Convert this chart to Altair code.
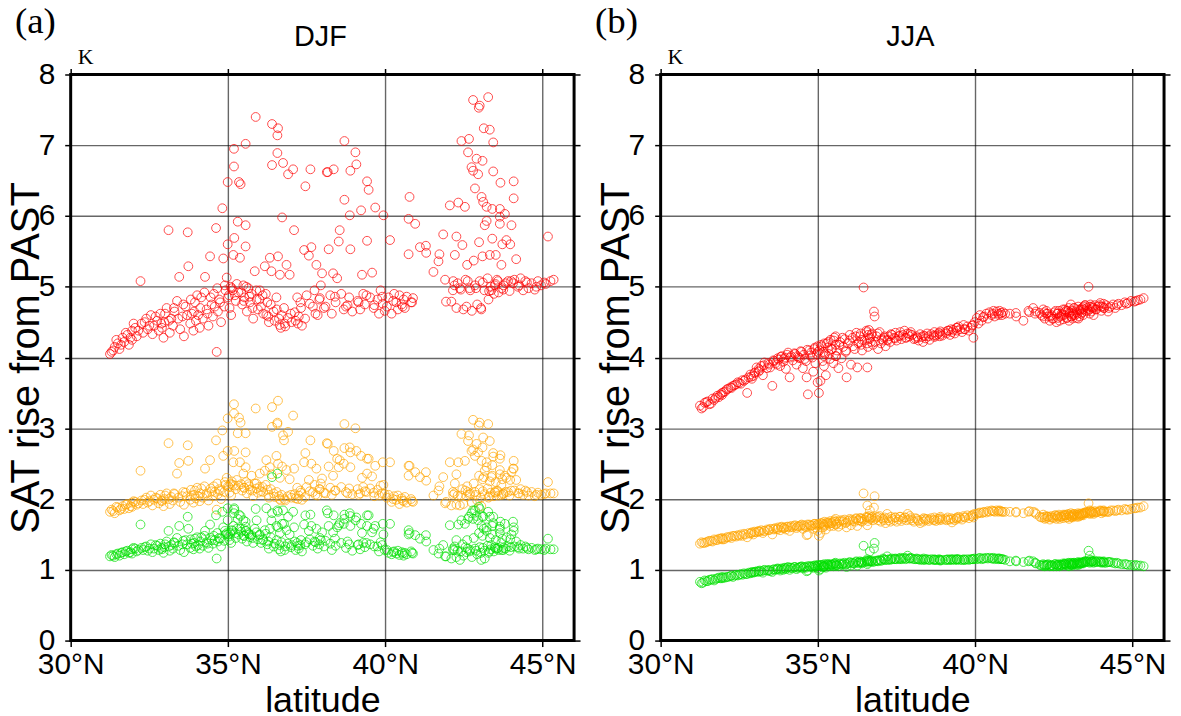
import altair as alt
import pandas as pd

# station latitudes (shared by all series)
lat = [
31.25, 31.30, 31.40, 31.50, 31.55, 31.65, 31.70, 31.80, 31.85, 31.95,
31.95, 32.05, 32.10, 32.22, 32.25, 32.30, 32.40, 32.45, 32.55, 32.60,
32.65, 32.75, 32.80, 32.85, 32.90, 32.95, 32.98, 33.05, 33.11, 33.15,
33.20, 33.25, 33.30, 33.38, 33.45, 33.48, 33.55, 33.60, 33.65, 33.72,
33.74, 33.80, 33.85, 33.90, 33.95, 33.98, 34.05, 34.10, 34.15, 34.20,
34.27, 34.32, 34.38, 34.43, 34.48, 34.52, 34.55, 34.62, 34.64, 34.68,
34.72, 34.78, 34.82, 34.85, 34.88, 34.92, 34.96, 34.99, 34.99, 35.03,
35.05, 35.08, 35.10, 35.15, 35.17, 35.19, 35.19, 35.20, 35.25, 35.31,
35.33, 35.35, 35.38, 35.40, 35.45, 35.49, 35.52, 35.56, 35.56, 35.56,
35.60, 35.65, 35.70, 35.75, 35.80, 35.85, 35.88, 35.91, 35.95, 36.01,
36.05, 36.10, 36.17, 36.22, 36.25, 36.30, 36.33, 36.38, 36.40, 36.40,
36.45, 36.54, 36.57, 36.57, 36.59, 36.59, 36.62, 36.65, 36.68, 36.72,
36.75, 36.78, 36.80, 36.86, 36.91, 36.96, 37.00, 37.07, 37.10, 37.15,
37.20, 37.25, 37.30, 37.35, 37.42, 37.46, 37.50, 37.57, 37.62, 37.65,
37.70, 37.75, 37.81, 37.85, 37.90, 37.95, 37.99, 38.05, 38.14, 38.17,
38.20, 38.25, 38.30, 38.34, 38.36, 38.42, 38.47, 38.52, 38.55, 38.60,
38.68, 38.70, 38.70, 38.75, 38.85, 38.87, 38.89, 38.89, 38.95, 39.05,
39.08, 39.12, 39.20, 39.23, 39.26, 39.30, 39.35, 39.42, 39.42, 39.47,
39.52, 39.58, 39.63, 39.68, 39.75, 39.80, 39.85, 39.92, 39.94, 39.98,
40.05, 40.10, 40.15, 40.20, 40.28, 40.35, 40.40, 40.45, 40.52, 40.58,
40.62, 40.68, 40.74, 40.74, 40.77, 40.82, 40.88, 40.95, 41.10, 41.29,
41.30, 41.53, 41.69, 41.72, 41.84, 41.90, 41.93, 42.05, 42.10, 42.16,
42.21, 42.26, 42.26, 42.32, 42.37, 42.42, 42.45, 42.53, 42.58, 42.60,
42.63, 42.66, 42.70, 42.74, 42.79, 42.79, 42.81, 42.85, 42.90, 42.95,
42.97, 42.98, 43.00, 43.04, 43.06, 43.09, 43.09, 43.11, 43.13, 43.16,
43.22, 43.22, 43.27, 43.32, 43.32, 43.37, 43.40, 43.40, 43.43, 43.43,
43.48, 43.51, 43.55, 43.60, 43.64, 43.64, 43.64, 43.66, 43.69, 43.72,
43.76, 43.80, 43.85, 43.90, 43.97, 44.01, 44.06, 44.08, 44.08, 44.16,
44.22, 44.30, 44.38, 44.45, 44.55, 44.65, 44.75, 44.85, 44.95, 45.05,
45.17, 45.25, 45.35, 42.15, 42.30, 42.48, 42.55, 42.68, 42.75, 42.85,
42.92, 43.00, 43.05, 43.15, 43.25, 43.28, 43.35, 43.45, 43.58, 43.70,
43.82, 43.95, 44.10,
31.35, 31.45, 31.60, 31.75, 31.90, 32.00, 32.15, 32.35, 32.50, 32.70,
32.88, 33.00, 33.12, 33.28, 33.42, 33.58, 33.70, 33.82, 33.92, 34.02,
34.12, 34.25, 34.35, 34.45, 34.58, 34.66, 34.75, 34.90, 35.00, 35.12,
35.22, 35.28, 35.42, 35.50, 35.58, 35.68, 35.78, 35.90, 36.00, 36.12,
36.20, 36.28, 36.36, 36.48, 36.55, 36.64, 36.70, 36.82, 36.90, 37.02,
37.12, 37.22, 37.32, 37.45, 37.60, 37.78, 37.92, 38.10, 38.40, 38.80,
39.15, 39.40, 39.65, 39.90, 40.25, 40.55, 40.85, 42.20, 42.40, 42.62,
42.88, 43.10, 43.30, 43.50, 43.75, 44.00, 44.25, 44.50, 44.80, 45.10,
]

djf_red = [
4.05, 4.08, 4.15, 4.20, 4.12, 4.28, 4.22, 4.32, 4.18, 4.38,
4.25, 4.42, 4.30, 5.08, 4.48, 4.35, 4.55, 4.40, 4.60, 4.33,
4.45, 4.52, 4.38, 4.62, 4.42, 4.28, 4.50, 4.70, 5.80, 4.35,
4.55, 4.45, 4.65, 4.80, 5.14, 4.40, 4.58, 4.30, 4.72, 5.77,
5.29, 4.48, 4.62, 4.38, 4.78, 4.52, 4.60, 4.42, 4.85, 4.55,
5.14, 4.68, 4.45, 5.43, 4.75, 4.58, 4.90, 5.83, 4.08, 4.65,
4.82, 4.50, 6.11, 5.40, 4.72, 4.95, 5.13, 5.60, 6.48, 4.88,
4.70, 5.00, 4.60, 4.95, 5.45, 6.95, 6.70, 5.69, 4.80, 5.92,
4.92, 6.48, 5.41, 6.45, 4.75, 5.02, 4.85, 7.02, 5.87, 5.57,
4.65, 4.98, 4.78, 4.90, 4.55, 5.22, 7.40, 4.82, 4.68, 4.95,
4.72, 4.88, 5.29, 4.60, 4.78, 4.50, 5.41, 5.22, 7.30, 6.72,
4.65, 4.85, 7.14, 6.89, 7.24, 5.43, 4.55, 5.17, 4.42, 5.98,
6.75, 4.70, 4.48, 5.31, 6.59, 5.17, 4.62, 6.66, 5.80, 4.52,
4.85, 4.58, 4.78, 4.45, 5.52, 6.42, 4.88, 5.44, 6.66, 5.56,
4.72, 4.95, 5.31, 4.60, 4.82, 5.02, 5.19, 4.70, 6.62, 6.62,
5.53, 4.88, 4.62, 5.19, 6.66, 4.78, 5.12, 5.64, 5.80, 4.90,
4.68, 7.06, 6.23, 4.72, 4.85, 6.01, 6.64, 5.53, 4.65, 6.90,
6.73, 4.80, 4.68, 6.08, 5.17, 4.90, 4.75, 6.49, 5.65, 6.37,
4.85, 5.20, 4.70, 6.12, 4.82, 4.62, 4.95, 4.76, 6.01, 4.66,
4.72, 4.85, 5.66, 4.62, 4.90, 4.78, 4.68, 4.88, 4.75, 4.82,
4.70, 4.86, 5.96, 5.46, 6.27, 4.78, 4.84, 5.89, 5.56, 5.58,
5.48, 5.21, 5.36, 5.46, 5.74, 5.10, 4.79, 6.15, 4.79, 5.08,
5.45, 5.71, 4.70, 6.19, 4.98, 7.06, 5.59, 6.13, 4.72, 5.31,
6.90, 7.09, 4.95, 6.69, 7.64, 6.64, 5.37, 6.39, 6.81, 6.59,
7.53, 5.63, 7.56, 4.70, 6.27, 6.78, 5.43, 6.20, 7.24, 5.87,
6.13, 5.93, 7.68, 7.22, 5.45, 4.95, 6.10, 5.68, 7.04, 6.63,
5.02, 5.45, 5.10, 4.92, 6.10, 5.99, 5.89, 6.47, 5.31, 5.60,
5.02, 6.03, 5.66, 5.08, 5.60, 5.87, 5.05, 6.49, 6.25, 5.39,
5.00, 5.12, 4.95, 5.08, 4.98, 5.05, 4.96, 5.08, 5.02, 5.06,
5.71, 5.08, 5.10, 4.95, 5.05, 4.68, 5.10, 4.98, 4.66, 5.02,
4.75, 5.08, 4.68, 4.95, 5.12, 4.82, 5.00, 4.90, 5.08, 4.98,
5.05, 4.94, 5.10,
4.10, 4.25, 4.18, 4.35, 4.28, 4.48, 4.38, 4.50, 4.45, 4.58,
4.48, 4.62, 4.52, 4.70, 4.55, 4.75, 4.60, 4.82, 4.65, 4.88,
4.70, 4.92, 4.62, 4.85, 4.72, 4.98, 4.78, 5.02, 4.85, 4.98,
4.88, 5.04, 4.92, 4.80, 5.00, 4.86, 4.70, 4.95, 4.82, 4.62,
4.90, 4.58, 4.75, 4.52, 4.68, 4.46, 4.60, 4.44, 4.56, 4.50,
4.64, 4.48, 4.70, 4.55, 4.76, 4.62, 4.84, 4.72, 4.86, 4.74,
4.78, 4.88, 4.74, 4.86, 4.80, 4.72, 4.78, 5.02, 4.96, 5.08,
4.98, 5.06, 4.94, 5.04, 4.96, 5.08, 5.02, 5.06, 5.00, 5.04,
]

djf_orange = [
1.82, 1.85, 1.80, 1.88, 1.84, 1.90, 1.86, 1.93, 1.87, 1.95,
1.89, 1.96, 1.92, 2.40, 1.98, 1.93, 2.02, 1.95, 2.05, 1.91,
1.99, 2.01, 1.94, 2.06, 1.97, 1.90, 2.00, 2.08, 2.79, 1.93,
2.03, 1.98, 2.07, 2.36, 2.51, 1.96, 2.04, 1.92, 2.09, 2.76,
2.54, 1.99, 2.05, 1.95, 2.12, 2.01, 2.04, 1.97, 2.15, 2.02,
2.43, 2.08, 1.98, 2.55, 2.11, 2.04, 2.18, 2.83, 1.85, 2.07,
2.14, 2.00, 2.97, 2.61, 2.10, 2.20, 2.30, 3.14, 2.68, 2.17,
2.09, 2.22, 2.05, 2.20, 2.52, 3.34, 3.21, 2.68, 2.14, 2.93,
2.19, 3.15, 2.52, 3.08, 2.12, 2.36, 2.16, 2.93, 2.66, 2.45,
2.08, 2.21, 2.13, 2.33, 2.04, 2.22, 3.28, 2.15, 2.09, 2.36,
2.11, 2.17, 2.40, 2.55, 2.13, 2.02, 2.45, 2.35, 3.30, 3.02,
2.08, 2.61, 3.08, 3.06, 3.39, 2.50, 2.04, 2.30, 1.98, 2.46,
2.90, 2.83, 2.00, 2.41, 2.95, 2.28, 2.06, 3.18, 2.43, 2.01,
2.16, 2.05, 2.12, 1.99, 2.52, 2.65, 2.17, 2.27, 2.83, 2.50,
2.10, 2.20, 2.43, 2.05, 2.14, 2.22, 2.29, 2.09, 2.79, 2.78,
2.46, 2.16, 2.06, 2.33, 2.68, 2.12, 2.57, 2.45, 2.55, 2.17,
2.50, 3.06, 2.72, 2.10, 2.15, 2.73, 2.66, 2.45, 2.07, 3.00,
2.68, 2.14, 2.08, 2.61, 2.30, 2.17, 2.11, 2.36, 2.57, 2.57,
2.15, 2.32, 2.09, 2.47, 2.13, 2.05, 2.19, 2.52, 2.20, 2.07,
2.02, 2.06, 2.52, 1.96, 2.04, 1.99, 2.05, 1.93, 2.01, 1.97,
2.03, 1.95, 2.33, 2.47, 2.47, 2.00, 1.96, 2.38, 2.31, 2.38,
2.26, 2.05, 2.12, 2.18, 2.31, 1.94, 1.96, 2.52, 1.91, 2.06,
2.22, 2.35, 1.92, 2.52, 1.91, 2.92, 2.14, 2.54, 2.04, 2.18,
2.82, 2.90, 2.08, 2.68, 3.12, 2.70, 2.22, 2.61, 2.78, 2.66,
3.04, 2.33, 3.08, 2.02, 2.54, 2.73, 2.28, 2.87, 2.31, 2.40,
2.52, 2.45, 3.06, 2.82, 2.25, 2.31, 2.48, 2.33, 2.65, 2.60,
2.10, 2.24, 2.12, 2.05, 2.57, 2.41, 2.35, 2.62, 2.20, 2.28,
2.08, 2.33, 2.30, 2.10, 2.27, 2.38, 2.43, 2.54, 2.43, 2.27,
2.08, 2.14, 2.06, 2.12, 2.05, 2.10, 2.04, 2.09, 2.06, 2.07,
2.24, 2.08, 2.08, 2.10, 2.05, 1.93, 2.12, 2.06, 1.95, 2.10,
1.98, 2.14, 1.90, 2.07, 2.15, 2.02, 2.09, 2.04, 2.11, 2.06,
2.10, 2.05, 2.12,
1.83, 1.89, 1.86, 1.92, 1.90, 1.97, 1.94, 1.99, 1.97, 2.02,
1.98, 2.05, 2.00, 2.08, 2.02, 2.10, 2.04, 2.13, 2.06, 2.16,
2.08, 2.18, 2.05, 2.15, 2.10, 2.22, 2.12, 2.24, 2.18, 2.25,
2.19, 2.27, 2.21, 2.16, 2.24, 2.18, 2.12, 2.22, 2.17, 2.10,
2.20, 2.06, 2.14, 2.03, 2.10, 2.00, 2.06, 1.98, 2.04, 2.02,
2.07, 2.00, 2.09, 2.03, 2.11, 2.06, 2.14, 2.08, 2.12, 2.08,
2.06, 2.10, 2.04, 2.08, 2.00, 1.98, 1.97, 2.08, 2.05, 2.10,
2.06, 2.11, 2.04, 2.09, 2.07, 2.12, 2.08, 2.10, 2.06, 2.08,
]

djf_green = [
1.19, 1.21, 1.18, 1.23, 1.20, 1.25, 1.22, 1.27, 1.24, 1.29,
1.23, 1.30, 1.26, 1.64, 1.31, 1.28, 1.33, 1.27, 1.36, 1.25,
1.30, 1.34, 1.28, 1.37, 1.29, 1.24, 1.32, 1.40, 1.55, 1.27,
1.35, 1.30, 1.38, 1.45, 1.62, 1.28, 1.36, 1.25, 1.42, 1.75,
1.58, 1.31, 1.37, 1.29, 1.44, 1.33, 1.35, 1.30, 1.46, 1.34,
1.55, 1.39, 1.31, 1.64, 1.42, 1.37, 1.48, 1.77, 1.16, 1.40,
1.45, 1.33, 1.82, 1.60, 1.41, 1.50, 1.52, 1.70, 1.87, 1.47,
1.42, 1.52, 1.38, 1.55, 1.62, 1.85, 1.80, 1.87, 1.45, 1.72,
1.50, 1.78, 1.58, 1.76, 1.44, 1.70, 1.48, 1.61, 1.68, 1.55,
1.40, 1.52, 1.46, 1.49, 1.38, 1.58, 1.86, 1.70, 1.43, 1.50,
1.38, 1.42, 1.56, 1.87, 1.36, 1.30, 1.58, 1.70, 2.31, 1.80,
1.33, 1.62, 1.84, 2.36, 1.82, 1.60, 1.29, 1.52, 1.26, 1.65,
1.84, 1.65, 1.28, 1.56, 1.75, 1.50, 1.32, 1.82, 1.60, 1.28,
1.38, 1.30, 1.35, 1.26, 1.64, 1.77, 1.39, 1.55, 1.78, 1.62,
1.34, 1.40, 1.58, 1.30, 1.36, 1.42, 1.53, 1.33, 1.84, 1.80,
1.62, 1.37, 1.28, 1.53, 1.77, 1.34, 1.60, 1.63, 1.66, 1.38,
1.65, 1.78, 1.72, 1.31, 1.36, 1.80, 1.76, 1.62, 1.27, 1.70,
1.74, 1.35, 1.29, 1.65, 1.52, 1.38, 1.32, 1.77, 1.62, 1.77,
1.36, 1.53, 1.58, 1.62, 1.33, 1.26, 1.39, 1.65, 1.50, 1.28,
1.28, 1.24, 1.65, 1.22, 1.26, 1.23, 1.27, 1.21, 1.25, 1.20,
1.24, 1.22, 1.56, 1.50, 1.52, 1.26, 1.23, 1.49, 1.44, 1.49,
1.40, 1.28, 1.23, 1.30, 1.35, 1.19, 1.19, 1.63, 1.16, 1.28,
1.33, 1.42, 1.18, 1.64, 1.14, 1.70, 1.36, 1.65, 1.25, 1.42,
1.72, 1.75, 1.28, 1.80, 1.84, 1.72, 1.45, 1.84, 1.76, 1.70,
1.89, 1.52, 1.86, 1.24, 1.62, 1.76, 1.48, 1.75, 1.58, 1.16,
1.60, 1.55, 1.82, 1.75, 1.45, 1.35, 1.62, 1.50, 1.75, 1.66,
1.32, 1.42, 1.30, 1.28, 1.61, 1.58, 1.52, 1.68, 1.38, 1.44,
1.31, 1.65, 1.46, 1.33, 1.43, 1.50, 1.68, 1.60, 1.55, 1.40,
1.32, 1.35, 1.30, 1.33, 1.29, 1.31, 1.28, 1.30, 1.29, 1.28,
1.44, 1.29, 1.29, 1.30, 1.27, 1.20, 1.32, 1.26, 1.18, 1.30,
1.22, 1.32, 1.14, 1.27, 1.34, 1.24, 1.29, 1.26, 1.31, 1.28,
1.30, 1.27, 1.33,
1.20, 1.22, 1.24, 1.26, 1.25, 1.31, 1.28, 1.32, 1.30, 1.35,
1.31, 1.36, 1.33, 1.39, 1.34, 1.41, 1.36, 1.43, 1.38, 1.46,
1.40, 1.48, 1.37, 1.45, 1.42, 1.52, 1.44, 1.55, 1.50, 1.56,
1.52, 1.58, 1.54, 1.48, 1.55, 1.50, 1.45, 1.53, 1.49, 1.43,
1.51, 1.40, 1.46, 1.37, 1.42, 1.35, 1.39, 1.33, 1.37, 1.35,
1.40, 1.34, 1.42, 1.36, 1.43, 1.39, 1.45, 1.41, 1.44, 1.40,
1.36, 1.38, 1.33, 1.35, 1.25, 1.23, 1.24, 1.28, 1.26, 1.30,
1.27, 1.31, 1.26, 1.30, 1.28, 1.32, 1.30, 1.31, 1.29, 1.30,
]

jja_red = [
3.32, 3.28, 3.36, 3.38, 3.34, 3.42, 3.40, 3.46, 3.44, 3.50,
3.47, 3.52, 3.55, 3.58, 3.57, 3.60, 3.62, 3.65, 3.63, 3.68,
3.67, 3.50, 3.72, 3.76, 3.70, 3.74, 3.78, 3.86, 3.80, 3.82,
3.88, 3.75, 3.93, 3.85, 3.90, 3.86, 3.60, 3.95, 3.92, 3.99,
3.97, 3.88, 4.02, 3.94, 4.00, 3.84, 4.07, 3.72, 4.02, 3.96,
4.05, 3.90, 4.00, 3.99, 4.08, 3.85, 4.04, 3.95, 3.72, 3.48,
4.10, 4.07, 4.00, 3.80, 4.12, 3.92, 4.05, 4.16, 3.65, 3.50,
4.10, 3.67, 4.18, 3.95, 4.08, 4.02, 3.88, 4.20, 3.75, 4.14,
4.22, 4.05, 3.98, 4.25, 4.12, 3.92, 4.28, 4.18, 4.02, 4.30,
4.10, 3.85, 4.22, 3.99, 4.15, 4.26, 4.08, 3.72, 4.20, 4.32,
3.90, 4.28, 4.12, 4.35, 3.86, 4.22, 4.30, 4.18, 4.10, 4.25,
4.99, 4.38, 3.86, 4.20, 4.32, 4.15, 4.39, 4.28, 4.22, 4.34,
4.18, 4.65, 4.58, 4.30, 4.12, 4.36, 4.20, 4.24, 4.28, 4.16,
4.25, 4.30, 4.22, 4.32, 4.28, 4.35, 4.24, 4.30, 4.36, 4.26,
4.32, 4.38, 4.28, 4.34, 4.30, 4.36, 4.32, 4.26, 4.30, 4.28,
4.24, 4.33, 4.29, 4.22, 4.31, 4.27, 4.34, 4.30, 4.25, 4.33,
4.31, 4.36, 4.29, 4.31, 4.35, 4.30, 4.33, 4.37, 4.31, 4.36,
4.34, 4.38, 4.32, 4.40, 4.36, 4.39, 4.34, 4.42, 4.38, 4.44,
4.40, 4.36, 4.46, 4.40, 4.44, 4.38, 4.42, 4.46, 4.28, 4.50,
4.56, 4.48, 4.60, 4.52, 4.58, 4.62, 4.55, 4.64, 4.60, 4.66,
4.58, 4.65, 4.62, 4.60, 4.66, 4.63, 4.64, 4.62, 4.62, 4.63,
4.58, 4.52, 4.66, 4.64, 4.70, 4.62, 4.65, 4.63, 4.60, 4.68,
4.55, 4.62, 4.66, 4.58, 4.52, 4.60, 4.55, 4.64, 4.50, 4.62,
4.56, 4.66, 4.58, 4.62, 4.68, 4.54, 4.60, 4.64, 4.56, 4.66,
4.70, 4.52, 4.62, 4.75, 4.58, 4.66, 4.55, 4.62, 4.70, 4.60,
4.64, 4.56, 4.72, 4.66, 4.58, 4.62, 4.70, 4.64, 4.68, 4.60,
4.74, 4.66, 4.70, 5.00, 4.72, 4.62, 4.68, 4.75, 4.65, 4.70,
4.60, 4.74, 4.68, 4.72, 4.77, 4.66, 4.72, 4.76, 4.70, 4.74,
4.65, 4.72, 4.75, 4.70, 4.76, 4.74, 4.78, 4.77, 4.80, 4.79,
4.81, 4.82, 4.84, 4.58, 4.62, 4.55, 4.66, 4.52, 4.60, 4.68,
4.56, 4.64, 4.58, 4.70, 4.62, 4.55, 4.68, 4.72, 4.66, 4.72,
4.68, 4.74, 4.70,
3.30, 3.37, 3.35, 3.43, 3.48, 3.51, 3.56, 3.61, 3.64, 3.69,
3.73, 3.79, 3.84, 3.89, 3.92, 3.96, 3.90, 4.01, 3.98, 4.04,
4.00, 4.06, 4.02, 4.09, 3.98, 4.11, 4.03, 4.14, 4.08, 4.16,
4.05, 4.20, 4.12, 4.24, 4.02, 4.18, 4.28, 4.10, 4.24, 4.16,
4.30, 4.20, 4.34, 4.24, 4.36, 4.26, 4.32, 4.22, 4.34, 4.26,
4.30, 4.24, 4.33, 4.27, 4.31, 4.28, 4.33, 4.27, 4.30, 4.33,
4.38, 4.42, 4.40, 4.45, 4.57, 4.62, 4.60, 4.64, 4.58, 4.62,
4.66, 4.60, 4.68, 4.74, 4.70, 4.72, 4.70, 4.74, 4.76, 4.80,
]

jja_orange = [
1.37, 1.39, 1.38, 1.40, 1.41, 1.40, 1.43, 1.42, 1.44, 1.45,
1.43, 1.44, 1.46, 1.47, 1.45, 1.48, 1.47, 1.49, 1.50, 1.48,
1.51, 1.46, 1.52, 1.51, 1.53, 1.50, 1.54, 1.53, 1.55, 1.54,
1.56, 1.52, 1.55, 1.57, 1.56, 1.58, 1.50, 1.57, 1.59, 1.58,
1.60, 1.56, 1.61, 1.59, 1.60, 1.57, 1.61, 1.55, 1.62, 1.60,
1.63, 1.59, 1.62, 1.61, 1.64, 1.58, 1.63, 1.60, 1.49, 1.50,
1.64, 1.62, 1.63, 1.58, 1.65, 1.60, 1.63, 1.65, 1.55, 1.48,
1.64, 1.52, 1.66, 1.60, 1.65, 1.63, 1.61, 1.68, 1.57, 1.66,
1.67, 1.65, 1.62, 1.69, 1.66, 1.62, 1.70, 1.68, 1.64, 1.72,
1.66, 1.61, 1.70, 1.64, 1.68, 1.71, 1.66, 1.60, 1.69, 1.72,
1.63, 1.71, 1.68, 1.73, 1.62, 1.70, 1.73, 1.69, 1.68, 1.72,
2.08, 1.75, 1.63, 1.91, 1.74, 1.69, 1.76, 1.84, 1.72, 1.75,
1.70, 1.88, 2.04, 1.74, 1.70, 1.76, 1.68, 1.72, 1.70, 1.66,
1.79, 1.70, 1.68, 1.72, 1.70, 1.74, 1.68, 1.71, 1.75, 1.69,
1.72, 1.74, 1.70, 1.79, 1.71, 1.73, 1.70, 1.68, 1.72, 1.70,
1.69, 1.66, 1.71, 1.68, 1.73, 1.70, 1.72, 1.69, 1.71, 1.73,
1.70, 1.74, 1.71, 1.69, 1.72, 1.70, 1.73, 1.75, 1.71, 1.72,
1.70, 1.74, 1.71, 1.73, 1.67, 1.72, 1.70, 1.74, 1.72, 1.75,
1.73, 1.71, 1.76, 1.74, 1.77, 1.73, 1.76, 1.78, 1.74, 1.79,
1.79, 1.80, 1.81, 1.80, 1.82, 1.81, 1.83, 1.82, 1.84, 1.83,
1.82, 1.84, 1.83, 1.82, 1.84, 1.83, 1.82, 1.82, 1.82, 1.81,
1.82, 1.80, 1.82, 1.83, 1.82, 1.81, 1.79, 1.75, 1.74, 1.78,
1.72, 1.76, 1.73, 1.75, 1.71, 1.76, 1.74, 1.77, 1.72, 1.76,
1.74, 1.78, 1.75, 1.76, 1.78, 1.73, 1.76, 1.77, 1.74, 1.79,
1.78, 1.72, 1.76, 1.80, 1.75, 1.78, 1.74, 1.77, 1.79, 1.76,
1.78, 1.75, 1.80, 1.78, 1.76, 1.77, 1.80, 1.78, 1.79, 1.77,
1.81, 1.80, 1.82, 1.94, 1.84, 1.79, 1.81, 1.83, 1.80, 1.82,
1.79, 1.83, 1.81, 1.82, 1.84, 1.80, 1.82, 1.84, 1.83, 1.82,
1.82, 1.84, 1.84, 1.83, 1.85, 1.84, 1.86, 1.85, 1.86, 1.87,
1.88, 1.88, 1.90, 1.74, 1.75, 1.73, 1.77, 1.72, 1.75, 1.78,
1.74, 1.77, 1.75, 1.79, 1.77, 1.75, 1.79, 1.80, 1.80, 1.82,
1.81, 1.83, 1.82,
1.38, 1.39, 1.41, 1.42, 1.44, 1.43, 1.46, 1.48, 1.48, 1.50,
1.52, 1.53, 1.54, 1.55, 1.56, 1.58, 1.57, 1.60, 1.59, 1.61,
1.60, 1.62, 1.61, 1.63, 1.62, 1.64, 1.63, 1.65, 1.64, 1.66,
1.64, 1.67, 1.66, 1.68, 1.64, 1.68, 1.70, 1.67, 1.70, 1.69,
1.72, 1.70, 1.73, 1.71, 1.74, 1.72, 1.74, 1.72, 1.75, 1.73,
1.74, 1.73, 1.75, 1.74, 1.75, 1.74, 1.76, 1.73, 1.72, 1.72,
1.71, 1.73, 1.74, 1.76, 1.81, 1.83, 1.82, 1.75, 1.74, 1.76,
1.77, 1.76, 1.79, 1.81, 1.81, 1.83, 1.82, 1.84, 1.85, 1.87,
]

jja_green = [
0.83, 0.81, 0.85, 0.84, 0.86, 0.87, 0.85, 0.88, 0.89, 0.88,
0.90, 0.89, 0.90, 0.91, 0.92, 0.90, 0.93, 0.92, 0.94, 0.93,
0.95, 0.94, 0.96, 0.95, 0.97, 0.96, 0.97, 0.98, 0.97, 0.99,
0.98, 0.96, 1.00, 0.99, 1.00, 0.98, 0.97, 1.01, 1.00, 1.02,
1.01, 0.99, 1.02, 1.00, 1.03, 1.01, 1.04, 1.00, 1.03, 1.02,
1.04, 1.01, 1.03, 1.04, 1.05, 1.02, 1.04, 1.03, 0.98, 0.99,
1.05, 1.04, 1.05, 1.03, 1.06, 1.04, 1.05, 1.07, 1.02, 0.99,
1.06, 1.01, 1.07, 1.04, 1.06, 1.05, 1.04, 1.08, 1.03, 1.07,
1.08, 1.06, 1.05, 1.08, 1.07, 1.05, 1.09, 1.08, 1.06, 1.10,
1.07, 1.05, 1.09, 1.07, 1.08, 1.10, 1.07, 1.04, 1.09, 1.11,
1.06, 1.10, 1.09, 1.12, 1.06, 1.10, 1.12, 1.10, 1.09, 1.11,
1.34, 1.13, 1.08, 1.15, 1.12, 1.10, 1.13, 1.26, 1.12, 1.13,
1.11, 1.30, 1.38, 1.13, 1.12, 1.14, 1.13, 1.16, 1.15, 1.14,
1.19, 1.15, 1.14, 1.16, 1.15, 1.16, 1.15, 1.16, 1.17, 1.15,
1.16, 1.17, 1.16, 1.20, 1.16, 1.17, 1.16, 1.15, 1.16, 1.15,
1.15, 1.14, 1.15, 1.14, 1.16, 1.15, 1.15, 1.14, 1.14, 1.15,
1.14, 1.15, 1.14, 1.14, 1.15, 1.14, 1.13, 1.14, 1.14, 1.14,
1.14, 1.15, 1.14, 1.15, 1.14, 1.15, 1.14, 1.15, 1.14, 1.15,
1.14, 1.14, 1.15, 1.14, 1.15, 1.14, 1.15, 1.15, 1.15, 1.16,
1.15, 1.16, 1.17, 1.15, 1.16, 1.17, 1.16, 1.17, 1.16, 1.17,
1.15, 1.16, 1.16, 1.15, 1.16, 1.15, 1.15, 1.14, 1.12, 1.13,
1.12, 1.11, 1.12, 1.13, 1.12, 1.10, 1.09, 1.07, 1.06, 1.08,
1.05, 1.07, 1.06, 1.08, 1.05, 1.07, 1.06, 1.08, 1.05, 1.07,
1.06, 1.08, 1.07, 1.07, 1.09, 1.06, 1.08, 1.08, 1.07, 1.09,
1.10, 1.05, 1.08, 1.10, 1.07, 1.09, 1.06, 1.08, 1.10, 1.08,
1.09, 1.07, 1.11, 1.10, 1.08, 1.09, 1.11, 1.10, 1.10, 1.09,
1.12, 1.11, 1.12, 1.27, 1.20, 1.10, 1.12, 1.14, 1.11, 1.12,
1.10, 1.13, 1.11, 1.12, 1.12, 1.10, 1.11, 1.12, 1.11, 1.10,
1.11, 1.11, 1.10, 1.09, 1.09, 1.08, 1.08, 1.07, 1.07, 1.06,
1.06, 1.06, 1.05, 1.06, 1.07, 1.05, 1.08, 1.05, 1.07, 1.09,
1.06, 1.08, 1.07, 1.10, 1.09, 1.07, 1.10, 1.11, 1.11, 1.12,
1.11, 1.11, 1.10,
0.82, 0.84, 0.86, 0.87, 0.88, 0.89, 0.90, 0.92, 0.93, 0.94,
0.96, 0.97, 0.98, 0.99, 0.99, 1.00, 1.01, 1.01, 1.02, 1.03,
1.03, 1.04, 1.03, 1.04, 1.04, 1.05, 1.05, 1.06, 1.06, 1.07,
1.06, 1.08, 1.07, 1.08, 1.06, 1.08, 1.09, 1.08, 1.10, 1.09,
1.11, 1.10, 1.11, 1.11, 1.12, 1.12, 1.12, 1.12, 1.13, 1.13,
1.14, 1.14, 1.15, 1.15, 1.15, 1.15, 1.16, 1.15, 1.14, 1.14,
1.14, 1.15, 1.14, 1.15, 1.16, 1.16, 1.15, 1.07, 1.06, 1.07,
1.08, 1.08, 1.10, 1.12, 1.12, 1.11, 1.11, 1.10, 1.08, 1.07,
]

series_names = ["red", "orange", "green"]
series_colors = ["#ff0000", "#ffa500", "#00e000"]
x_ticks = [30, 35, 40, 45]
y_ticks = [0, 1, 2, 3, 4, 5, 6, 7, 8]

W, H = 506, 569
SANS = "Liberation Sans"
SERIF = "Liberation Serif"


def long_table(r, o, g):
    n = min(len(lat), len(r), len(o), len(g))
    rows = []
    for name, vals in zip(series_names, [r, o, g]):
        for i in range(n):
            rows.append({"lat": lat[i], "val": vals[i], "series": name})
    return pd.DataFrame(rows)


def panel(df, tag, tag_x, season):
    xs = alt.Scale(domain=[30, 46], nice=False, zero=False)
    ys = alt.Scale(domain=[0, 8], nice=False, zero=False)
    pts = alt.Chart(df).mark_point(
        shape="circle", filled=False, size=78, strokeWidth=1, opacity=0.7
    ).encode(
        x=alt.X("lat:Q", scale=xs, axis=alt.Axis(
            values=x_ticks, labelExpr="datum.value + '°N'", title="latitude",
            grid=True, labelPadding=3, titlePadding=4, labelFlush=False,
            titleFontSize=36)),
        y=alt.Y("val:Q", scale=ys, axis=alt.Axis(
            values=y_ticks, title="SAT rise from PAST", grid=True,
            labelPadding=10, titlePadding=0, titleBaseline="alphabetic",
            titleFontSize=40)),
        color=alt.Color("series:N", scale=alt.Scale(domain=series_names, range=series_colors), legend=None),
    )
    ticks = alt.Chart(df).mark_point(opacity=0).encode(
        x=alt.X("lat:Q", scale=xs, axis=alt.Axis(
            orient="top", values=x_ticks, labels=False, title=None, grid=False)),
        y=alt.Y("val:Q", scale=ys, axis=alt.Axis(
            orient="right", values=y_ticks, labels=False, title=None, grid=False)),
    )
    tag_t = alt.Chart(pd.DataFrame({"t": [tag]})).mark_text(
        font=SERIF, fontSize=37, align="left", baseline="alphabetic", color="black"
    ).encode(x=alt.value(tag_x), y=alt.value(-42), text="t:N")
    season_t = alt.Chart(pd.DataFrame({"t": [season]})).mark_text(
        font=SANS, fontSize=29, align="center", baseline="alphabetic", color="black"
    ).encode(x=alt.value(W / 2 - 2), y=alt.value(-29), text="t:N")
    k_t = alt.Chart(pd.DataFrame({"t": ["K"]})).mark_text(
        font=SERIF, fontSize=22, align="left", baseline="alphabetic", color="black"
    ).encode(x=alt.value(7), y=alt.value(-11), text="t:N")
    return alt.layer(pts, ticks, tag_t, season_t, k_t).resolve_axis(
        x="independent", y="independent"
    ).properties(width=W, height=H)


pa = panel(long_table(djf_red, djf_orange, djf_green), "(a)", -56, "DJF")
pb = panel(long_table(jja_red, jja_orange, jja_green), "(b)", -66, "JJA")

chart = alt.hconcat(pa, pb, spacing=87, bounds="flush").properties(
    padding={"left": -4, "top": -9, "right": 0, "bottom": 0}
).configure_view(
    stroke="black", strokeWidth=3
).configure_axis(
    labelFont=SANS, labelFontSize=30, labelColor="black",
    titleFont=SANS, titleFontWeight="normal", titleColor="black",
    tickColor="black", tickSize=6, tickWidth=1.5,
    gridColor="black", gridOpacity=0.6, gridWidth=1.4, domain=False,
)

chart.save("out.html", embed_options={"renderer": "svg", "actions": False})
